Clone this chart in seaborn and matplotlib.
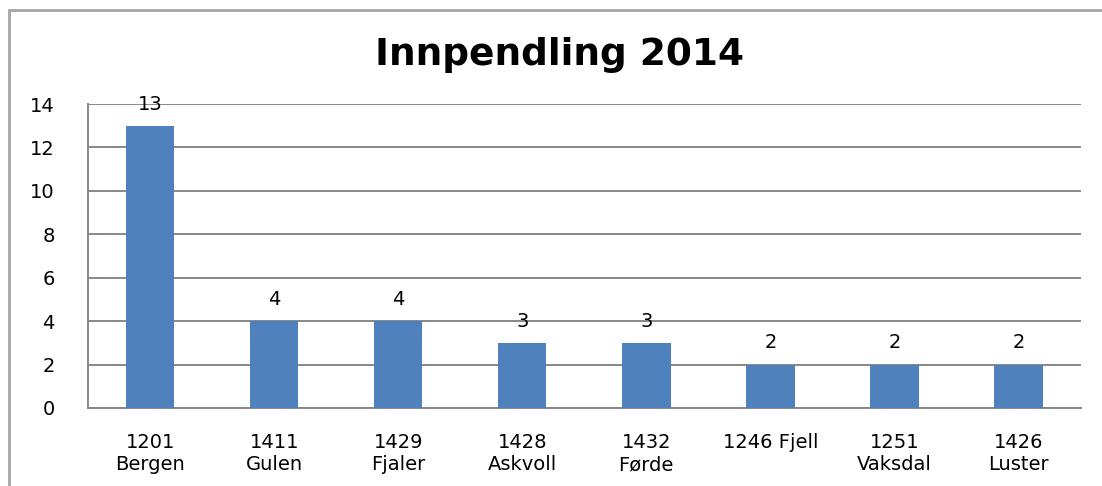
import seaborn as sns
import pandas as pd
import matplotlib.pyplot as plt
from matplotlib.lines import Line2D

kommuner = ['1201\nBergen', '1411\nGulen', '1429\nFjaler', '1428\nAskvoll',
            '1432\nFørde', '1246 Fjell', '1251\nVaksdal', '1426\nLuster']
antall = [13, 4, 4, 3, 3, 2, 2, 2]
yticks = [0, 2, 4, 6, 8, 10, 12, 14]

df = pd.DataFrame({'Kommune': kommuner, 'Antall': antall})

sns.set_style('white')
plt.rcParams['font.family'] = ['DejaVu Sans']
plt.rcParams['text.color'] = 'black'
plt.rcParams['xtick.color'] = 'black'
plt.rcParams['ytick.color'] = 'black'

fig = plt.figure(figsize=(11.02, 4.86), dpi=100)
ax = fig.add_axes([0.0799, 0.1605, 0.9006, 0.6255])

sns.barplot(data=df, x='Kommune', y='Antall', color='#4f81bd', width=0.39,
            saturation=1, linewidth=0, ax=ax, zorder=3)

for i, v in enumerate(antall):
    ax.text(i, v + 1.0, str(v), ha='center', va='center', fontsize=14, zorder=4)

ax.set_ylim(0, 14)
ax.set_xlim(-0.5, len(kommuner) - 0.5)
ax.set_yticks(yticks)
ax.yaxis.grid(True, color='#888888', linewidth=1.4, zorder=0)
ax.set_xlabel('')
ax.set_ylabel('')
ax.tick_params(axis='y', length=0, pad=24, labelsize=14)
ax.tick_params(axis='x', length=0, pad=18, labelsize=14)
for s in ['top', 'right']:
    ax.spines[s].set_visible(False)
for s in ['left', 'bottom']:
    ax.spines[s].set_color('#888888')
    ax.spines[s].set_linewidth(1.4)

fig.text(0.508, 0.887, 'Innpendling 2014', ha='center', va='center',
         fontsize=27, fontweight='bold')

# outer chart frame (cropped)
fig.add_artist(Line2D([0.0082, 1.0], [0.979, 0.979], color='#a6a6a6', linewidth=2))
fig.add_artist(Line2D([0.0082, 0.0082], [0.0, 0.979], color='#a6a6a6', linewidth=2))

plt.savefig('out.png', dpi=100)
